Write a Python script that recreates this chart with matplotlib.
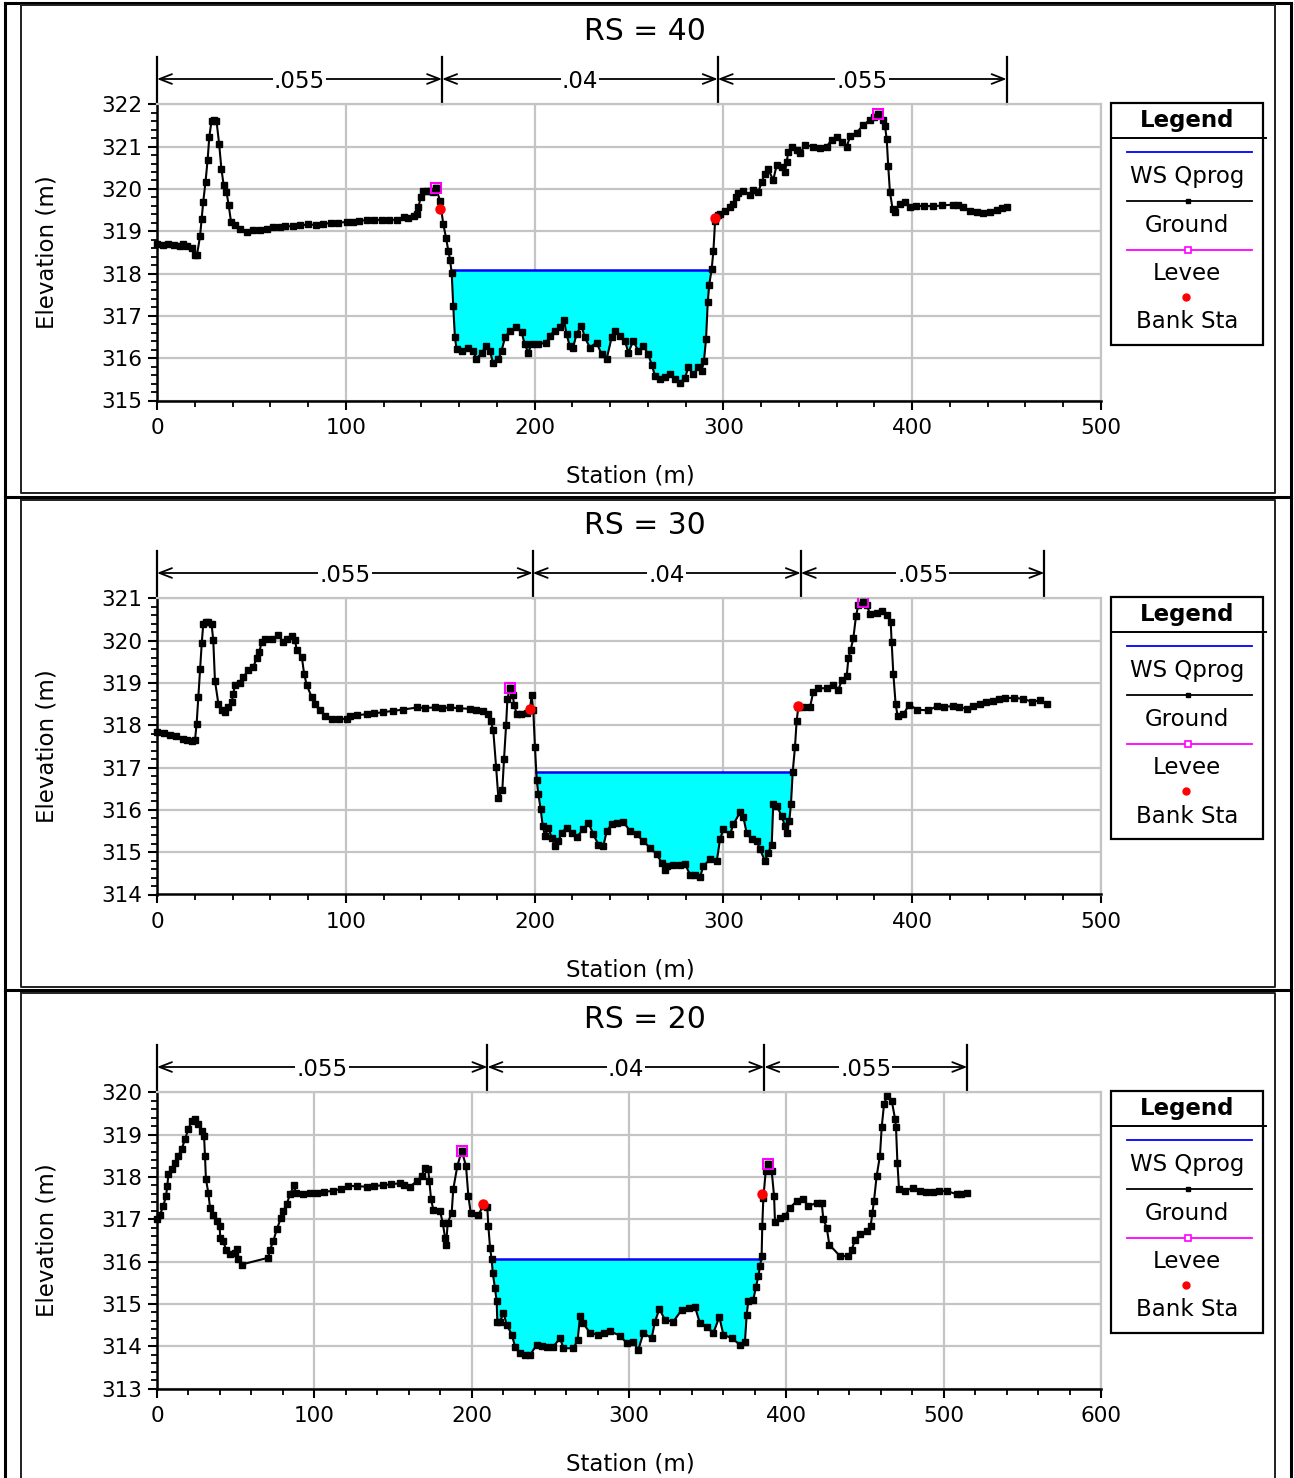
import numpy as np
import matplotlib
matplotlib.use("Agg")
import matplotlib.pyplot as plt
from matplotlib.lines import Line2D
from matplotlib.patches import Rectangle
import matplotlib.transforms as mtransforms

plt.rcParams['font.family'] = ['DejaVu Sans']

# ---------------- data ----------------
titles = ["RS = 40", "RS = 30", "RS = 20"]

sta_40 = [0, 3, 6, 9, 12, 14, 16, 18.4, 20.1, 21.2, 22.8, 23.7, 24.5, 25.7, 26.8, 27.7, 28.9, 30.2, 31.5,
          32.9, 34.1, 35.3, 36.8, 38.0, 39.2, 41.3, 44.0, 47.5, 51.0, 54.5, 58.0, 61.7, 65, 68, 72, 75.7,
          80, 84, 88, 92, 96, 100.4, 104, 107, 111, 115, 119, 123, 127, 130.6, 133, 136, 137.6, 138.5,
          139.7, 141.1, 143, 144.6, 146, 147.8, 149.9, 151.6, 153.1, 154.3, 155.2, 156.1, 156.9, 157.8,
          158.7, 161.3, 164.8, 167.5, 169.2, 171.9, 174.5, 176.3, 178, 180.7, 182.5, 184.3, 186.9, 190.4,
          193.1, 194.8, 196.6, 198.4, 202, 206.3, 208.1, 210.7, 213.4, 215.6, 216.9, 218.6, 220.4, 222.2,
          224.8, 226.6, 229.3, 232.8, 235.5, 238.1, 240.8, 242.5, 245.2, 247.9, 249.6, 252.3, 254.9,
          257.6, 260.2, 262.0, 263.8, 266.4, 269, 271.7, 274.4, 277, 279.7, 281.4, 284.1, 286.7, 288.5,
          289.7, 290.8, 291.7, 292.5, 293.8, 294.7, 295.6, 297, 298.2, 300.8, 303.5, 305.2, 306.7, 307.9,
          310.5, 314.1, 315.8, 318.5, 320.3, 322.0, 323.8, 326.4, 328.2, 330.8, 332.6, 333.5, 334.4,
          336.2, 338.8, 340.6, 343.2, 347.6, 351.2, 354.7, 357.3, 360.0, 362.6, 365.3, 367.1, 370.6,
          374.1, 377.6, 380, 382.0, 384.4, 385.6, 386.5, 387.3, 388.2, 389.6, 390.9, 393.5, 396.2, 398.8,
          402, 406, 411.2, 416, 421.8, 424.5, 427.1, 430.6, 434.2, 437.7, 441.2, 444.7, 447.5, 450]
elev_40 = [318.70, 318.68, 318.69, 318.67, 318.66, 318.70, 318.66, 318.60, 318.43, 318.45, 318.88, 319.30,
           319.70, 320.17, 320.68, 321.23, 321.61, 321.63, 321.61, 321.07, 320.48, 320.09, 319.93, 319.61,
           319.22, 319.14, 319.06, 318.98, 319.02, 319.04, 319.06, 319.10, 319.10, 319.12, 319.12, 319.14,
           319.16, 319.15, 319.18, 319.19, 319.20, 319.22, 319.23, 319.25, 319.26, 319.26, 319.27, 319.27,
           319.27, 319.34, 319.31, 319.35, 319.41, 319.57, 319.81, 319.94, 319.95, 319.94, 319.93, 320.02,
           319.72, 319.18, 318.84, 318.54, 318.33, 318.01, 317.24, 316.49, 316.21, 316.17, 316.25, 316.17,
           315.97, 316.13, 316.29, 316.17, 315.89, 315.97, 316.17, 316.49, 316.65, 316.73, 316.61, 316.33,
           316.13, 316.33, 316.33, 316.37, 316.53, 316.65, 316.73, 316.90, 316.57, 316.29, 316.25, 316.57,
           316.77, 316.49, 316.25, 316.37, 316.09, 315.97, 316.49, 316.65, 316.53, 316.41, 316.13, 316.41,
           316.17, 316.29, 316.09, 315.85, 315.58, 315.50, 315.55, 315.62, 315.50, 315.42, 315.54, 315.78,
           315.62, 315.78, 315.70, 315.94, 316.45, 317.32, 317.74, 318.11, 318.53, 319.25, 319.38, 319.41,
           319.49, 319.57, 319.65, 319.81, 319.91, 319.95, 319.86, 319.97, 319.93, 320.17, 320.36, 320.46,
           320.21, 320.56, 320.52, 320.40, 320.64, 320.88, 321.00, 320.92, 320.84, 321.04, 321.00, 320.96,
           321.00, 321.16, 321.22, 321.12, 321.00, 321.24, 321.33, 321.51, 321.63, 321.70, 321.76, 321.64,
           321.49, 321.17, 320.54, 319.93, 319.53, 319.45, 319.65, 319.69, 319.57, 319.59, 319.60, 319.59,
           319.61, 319.63, 319.61, 319.57, 319.49, 319.45, 319.44, 319.45, 319.51, 319.54, 319.57]

sta_30 = [0, 3.5, 6.9, 10, 13.9, 16, 18.4, 20.1, 21.0, 21.9, 22.8, 23.7, 24.5, 25.8, 27.2, 28.9, 29.8, 30.7,
          32.5, 34.3, 36.0, 37.8, 39.6, 40.4, 41.3, 44.0, 45.7, 48.4, 51.0, 52.8, 54.2, 55.5, 57.2, 60.8,
          64.3, 66.9, 68.7, 71.4, 73.1, 74.0, 76.7, 77.9, 79.3, 81.9, 83.7, 86.3, 89.0, 92.5, 96.5, 100.5,
          102.2, 106, 111.1, 115, 119.9, 125, 130.5, 137.6, 142, 147, 151, 155.2, 160, 165.8, 169, 172.8,
          175.5, 176.7, 178.1, 179.6, 180.8, 182.9, 183.8, 184.9, 185.6, 187.0, 188.4, 189.2, 190.5, 193,
          195.8, 197.6, 198.4, 199.3, 200.2, 201.1, 202.0, 203.2, 204.3, 205.5, 207.3, 209.0, 210.8, 212.6,
          214.3, 217.0, 219.6, 222.3, 225.8, 228.5, 231.1, 233.8, 236.4, 238.2, 240.8, 243.5, 247.0, 250.5,
          254.1, 257.6, 261.2, 264.7, 267.3, 269.1, 270.0, 273.5, 277, 279.7, 282.3, 285, 287.6, 289.4,
          292.9, 296.5, 298.2, 300.0, 303.5, 305.3, 308.8, 310.6, 312.3, 315.0, 317.6, 319.4, 322.0, 323.8,
          325.6, 326.4, 328.2, 330.8, 332.6, 333.5, 334.9, 335.8, 336.7, 337.9, 338.8, 339.7, 342.3, 345.9,
          347.6, 350.3, 354.7, 358.2, 360.9, 362.7, 365.3, 366.2, 367.4, 368.8, 370.2, 371.5, 373.8, 375.9,
          377.6, 381.2, 383.8, 386.5, 388.6, 389.1, 390.0, 391.2, 392.3, 395.3, 398.5, 402.4, 408.5, 413.0,
          417, 421.8, 425, 428.9, 432, 435.9, 439, 443.0, 446, 449.2, 454, 458.9, 463.3, 467.7, 471.2]
elev_30 = [317.84, 317.81, 317.78, 317.74, 317.68, 317.66, 317.62, 317.64, 318.04, 318.67, 319.32, 319.94,
           320.39, 320.43, 320.43, 320.39, 320.01, 319.05, 318.51, 318.35, 318.31, 318.43, 318.55, 318.75,
           318.95, 318.99, 319.14, 319.30, 319.38, 319.58, 319.74, 319.97, 320.03, 320.03, 320.13, 319.97,
           320.03, 320.11, 320.01, 319.78, 319.62, 319.22, 318.95, 318.67, 318.51, 318.35, 318.23, 318.15,
           318.15, 318.15, 318.23, 318.24, 318.26, 318.28, 318.31, 318.34, 318.37, 318.42, 318.41, 318.42,
           318.41, 318.42, 318.40, 318.39, 318.36, 318.33, 318.27, 318.11, 317.88, 317.02, 316.29, 316.47,
           317.20, 318.00, 318.63, 318.89, 318.71, 318.47, 318.27, 318.27, 318.29, 318.39, 318.71, 318.35,
           317.48, 316.71, 316.37, 316.02, 315.62, 315.38, 315.58, 315.34, 315.14, 315.26, 315.46, 315.58,
           315.46, 315.36, 315.54, 315.70, 315.42, 315.18, 315.14, 315.50, 315.66, 315.70, 315.72, 315.50,
           315.42, 315.26, 315.10, 314.95, 314.75, 314.57, 314.67, 314.69, 314.70, 314.72, 314.47, 314.45,
           314.41, 314.67, 314.83, 314.79, 315.30, 315.54, 315.42, 315.66, 315.94, 315.82, 315.46, 315.30,
           315.26, 315.07, 314.79, 314.99, 315.18, 316.14, 316.10, 315.86, 315.62, 315.46, 315.74, 316.15,
           316.89, 317.48, 318.11, 318.43, 318.42, 318.43, 318.79, 318.88, 318.87, 318.95, 318.84, 319.06,
           319.16, 319.58, 319.78, 320.05, 320.57, 320.85, 320.92, 320.85, 320.63, 320.65, 320.71, 320.61,
           320.45, 319.97, 319.22, 318.51, 318.21, 318.26, 318.49, 318.37, 318.35, 318.45, 318.44, 318.45,
           318.42, 318.39, 318.45, 318.51, 318.54, 318.57, 318.62, 318.65, 318.64, 318.63, 318.55, 318.59,
           318.51]

sta_20 = [0, 1.9, 4.0, 5.7, 6.6, 7.2, 9.3, 11.4, 13.5, 15.7, 17.8, 19.9, 22.1, 24.2, 26.3, 28.4, 29.9, 30.5,
          31.1, 32.6, 33.7, 35.8, 37.9, 39.8, 40.2, 42.1, 43.9, 46.4, 49.6, 50.7, 51.7, 53.8, 70.7, 71.8,
          73.9, 76.1, 78.8, 80.3, 82.4, 84.5, 87.1, 88.3, 93.0, 97, 101.5, 106, 112.1, 117, 121.6, 127,
          133.3, 138, 143.9, 149, 154.5, 157, 160.8, 165.1, 168.2, 170.3, 172.4, 173.1, 174.2, 175.6, 179.9,
          181.6, 183.1, 183.7, 184.8, 187.3, 188.3, 190.9, 193.7, 196.4, 197.9, 199.4, 204.2, 207.4, 209.9,
          210.6, 211.7, 212.7, 213.4, 214.8, 215.9, 216.3, 218.0, 220.2, 222.3, 225.5, 227.6, 230.7, 234,
          237.1, 241.3, 244.5, 247.7, 251.9, 256.2, 258.3, 264.7, 267.4, 268.9, 271.0, 275.2, 280.5, 284,
          288.0, 294.3, 298.6, 302.7, 305.9, 309.1, 314.4, 316.5, 319.3, 322.9, 328.2, 333.5, 338, 342.0,
          345.1, 349.4, 353.6, 357.4, 360.0, 365.3, 370.6, 373.7, 374.8, 375.8, 379.0, 380.7, 382.2, 383.3,
          384.3, 384.7, 385.4, 386.9, 388.2, 390.7, 392.2, 392.8, 396.0, 399.2, 402.3, 406.6, 410.8, 414.0,
          419.3, 422.5, 423.5, 425.7, 427.3, 434.1, 439.4, 441.6, 443.7, 446.8, 451.1, 453.6, 454.7, 455.7,
          457.4, 459.5, 460.6, 462.1, 464.2, 467.0, 469.1, 469.7, 470.6, 471.6, 475.4, 480.7, 485.0, 489,
          493.4, 497, 501.9, 508.3, 511, 514.6]
elev_20 = [317.00, 317.11, 317.31, 317.55, 317.79, 318.06, 318.18, 318.34, 318.50, 318.66, 318.89, 319.13,
           319.33, 319.37, 319.25, 319.09, 318.97, 318.50, 317.95, 317.63, 317.27, 317.11, 316.96, 316.84,
           316.56, 316.48, 316.28, 316.17, 316.20, 316.30, 316.05, 315.93, 316.09, 316.28, 316.48, 316.76,
           317.03, 317.19, 317.35, 317.59, 317.80, 317.61, 317.59, 317.62, 317.63, 317.65, 317.67, 317.72,
           317.79, 317.78, 317.77, 317.79, 317.80, 317.83, 317.85, 317.80, 317.77, 317.90, 318.02, 318.22,
           318.18, 317.90, 317.47, 317.23, 317.19, 316.92, 316.56, 316.38, 316.92, 317.15, 317.71, 318.26,
           318.62, 318.26, 317.55, 317.15, 317.11, 317.31, 317.30, 316.84, 316.32, 316.05, 315.73, 315.37,
           315.06, 314.58, 314.58, 314.78, 314.51, 314.27, 313.99, 313.83, 313.80, 313.79, 314.03, 314.00,
           313.99, 313.99, 314.19, 313.95, 313.95, 314.15, 314.72, 314.54, 314.31, 314.27, 314.30, 314.35,
           314.25, 314.07, 314.11, 313.91, 314.31, 314.19, 314.58, 314.88, 314.62, 314.58, 314.86, 314.90,
           314.92, 314.54, 314.46, 314.31, 314.69, 314.27, 314.19, 314.03, 314.11, 314.74, 315.06, 315.10,
           315.40, 315.65, 315.89, 316.13, 316.84, 317.51, 318.14, 318.30, 318.14, 317.55, 316.93, 317.03,
           317.07, 317.27, 317.43, 317.47, 317.31, 317.39, 317.39, 317.00, 316.80, 316.40, 316.13, 316.13,
           316.28, 316.52, 316.64, 316.72, 316.84, 317.15, 317.43, 318.02, 318.50, 319.17, 319.72, 319.92,
           319.80, 319.37, 319.17, 318.34, 317.71, 317.67, 317.75, 317.67, 317.65, 317.64, 317.66, 317.67,
           317.59, 317.60, 317.63]

ws_40, ws_30, ws_20 = 318.08, 316.89, 316.06

levee_sta_40, levee_elev_40 = [147.8, 382.0], [320.02, 321.76]
levee_sta_30, levee_elev_30 = [187.0, 373.8], [318.89, 320.92]
levee_sta_20, levee_elev_20 = [193.7, 388.2], [318.62, 318.30]

bank_sta_40, bank_elev_40 = [149.9, 295.6], [319.53, 319.31]
bank_sta_30, bank_elev_30 = [197.6, 339.7], [318.39, 318.45]
bank_sta_20, bank_elev_20 = [207.4, 384.3], [317.35, 317.59]

n_break_40 = [0, 151, 297, 450]
n_break_30 = [0, 199, 341, 470]
n_break_20 = [0, 210, 386, 515]
n_values = [".055", ".04", ".055"]

x_max = [500, 500, 600]
y_lim = [(315, 322), (314, 321), (313, 320)]

panels = [
    (titles[0], sta_40, elev_40, ws_40, levee_sta_40, levee_elev_40, bank_sta_40, bank_elev_40, n_break_40),
    (titles[1], sta_30, elev_30, ws_30, levee_sta_30, levee_elev_30, bank_sta_30, bank_elev_30, n_break_30),
    (titles[2], sta_20, elev_20, ws_20, levee_sta_20, levee_elev_20, bank_sta_20, bank_elev_20, n_break_20),
]

# ---------------- layout ----------------
W, H = 1294, 1478
fig = plt.figure(figsize=(W / 100, H / 100), dpi=100)


def fx(x):
    return x / W


def fy(y):
    return 1 - y / H


offsets = [0, 494, 988]
FS_TICK = 15.5
FS_LAB = 16.5
FS_LEG = 16.5
FS_TITLE = 21.5


def water_extent(s, e, ws):
    s = np.asarray(s, float)
    e = np.asarray(e, float)
    i0 = int(np.argmin(e))
    i = i0
    while i > 0 and e[i - 1] < ws:
        i -= 1
    j = i0
    while j < len(e) - 1 and e[j + 1] < ws:
        j += 1
    xl = s[i - 1] + (ws - e[i - 1]) * (s[i] - s[i - 1]) / (e[i] - e[i - 1])
    xr = s[j] + (ws - e[j]) * (s[j + 1] - s[j]) / (e[j + 1] - e[j])
    xs = np.concatenate([[xl], s[i:j + 1], [xr]])
    es = np.concatenate([[ws], e[i:j + 1], [ws]])
    return xs, es, xl, xr


# outer frame
for yy in [3, 497, 990]:
    fig.add_artist(Line2D([fx(5), fx(1291)], [fy(yy), fy(yy)], color='black', lw=2.2))
for xx in [5, 1291]:
    fig.add_artist(Line2D([fx(xx), fx(xx)], [fy(3), fy(H + 5)], color='black', lw=2.2))
# inner boxes
inner = [(5, 492.5), (499.5, 986.5), (993, H + 10)]
for (t, b) in inner:
    fig.add_artist(Line2D([fx(20.5), fx(1274.5), fx(1274.5), fx(20.5), fx(20.5)],
                          [fy(t), fy(t), fy(b), fy(b), fy(t)], color='#202020', lw=1.4))

for k, (title, s, e, ws, lvs, lve, bks, bke, nb) in enumerate(panels):
    off = offsets[k]
    ylo, yhi = y_lim[k]
    top_px = 104.3 + off
    bot_px = 400.5 + off
    ax = fig.add_axes([fx(157), fy(bot_px), fx(1101) - fx(157), (bot_px - top_px) / H])
    ax.set_xlim(0, x_max[k])
    ax.set_ylim(ylo, yhi)

    xs, es, xl, xr = water_extent(s, e, ws)
    ax.fill_between(xs, es, ws, color='#00ffff', lw=0, zorder=2)
    ax.plot([xl, xr], [ws, ws], color='#0000ff', lw=1.8, zorder=3)
    ax.plot(s, e, color='black', lw=1.5, marker='s', ms=4.0, zorder=4, clip_on=False)
    ax.plot(lvs, lve, ls='none', marker='s', ms=7, mfc='none', mec='#ff00ff', mew=1.5, zorder=5)
    ax.plot(lvs, lve, ls='none', marker='s', ms=4, color='black', zorder=5.5)
    ax.plot(bks, bke, ls='none', marker='o', ms=6.5, color='#ff0000', zorder=6)

    ax.xaxis.set_major_locator(matplotlib.ticker.MultipleLocator(100))
    ax.xaxis.set_minor_locator(matplotlib.ticker.MultipleLocator(20))
    ax.yaxis.set_major_locator(matplotlib.ticker.MultipleLocator(1))
    ax.yaxis.set_minor_locator(matplotlib.ticker.MultipleLocator(0.2))
    ax.grid(True, which='major', color='#c4c4c4', lw=1.6, zorder=0)
    ax.set_axisbelow(True)
    for side in ['top', 'right']:
        ax.spines[side].set_color('#c4c4c4')
        ax.spines[side].set_linewidth(1.6)
    for side in ['left', 'bottom']:
        ax.spines[side].set_color('black')
        ax.spines[side].set_linewidth(1.8)
    ax.tick_params(which='major', direction='out', length=6.5, width=1.5, labelsize=FS_TICK)
    ax.tick_params(axis='y', which='major', pad=4)
    ax.tick_params(axis='x', which='major', pad=6)
    ax.tick_params(which='minor', direction='out', length=4, width=1.3)

    fig.text(fx(630), fy(476 + off), "Station (m)", ha='center', va='center', fontsize=FS_LAB)
    fig.text(fx(47), fy(252 + off), "Elevation (m)", ha='center', va='center', rotation=90,
             fontsize=FS_LAB)

    # Manning's n bar
    trans = mtransforms.blended_transform_factory(ax.transData, ax.transAxes)
    ph = bot_px - top_px
    y_arrow = 1 + (top_px - (79 + off)) / ph
    y_top = 1 + (top_px - (57 + off)) / ph
    for xb in nb:
        ax.plot([xb, xb], [1.0, y_top], color='black', lw=1.6, transform=trans, clip_on=False)
    for i in range(len(n_values)):
        ax.annotate('', xy=(nb[i], y_arrow), xytext=(nb[i + 1], y_arrow), xycoords=trans, textcoords=trans,
                    arrowprops=dict(arrowstyle='<->,head_length=0.9,head_width=0.35', lw=1.3, color='black',
                                    shrinkA=0, shrinkB=0))
        ax.text((nb[i] + nb[i + 1]) / 2, y_arrow - 0.01, n_values[i], transform=trans, ha='center',
                va='center', fontsize=FS_LAB,
                bbox=dict(boxstyle='square,pad=0.05', fc='white', ec='none'))

    # title
    fig.text(fx(645), fy(31 + off), title, ha='center', va='center', fontsize=FS_TITLE)

    # legend box
    fig.add_artist(Rectangle((fx(1111), fy(345 + off)), fx(1263) - fx(1111), (345 - 103) / H,
                             transform=fig.transFigure, fill=False, ec='black', lw=1.6))
    fig.add_artist(Line2D([fx(1111), fx(1266)], [fy(138 + off)] * 2, color='black', lw=1.4))
    fig.text(fx(1187), fy(120 + off), "Legend", ha='center', va='center', fontsize=FS_LEG, fontweight='bold')
    fig.add_artist(Line2D([fx(1127), fx(1252)], [fy(152 + off)] * 2, color='#0000ff', lw=1.3))
    fig.text(fx(1187), fy(176 + off), "WS Qprog", ha='center', va='center', fontsize=FS_LEG)
    fig.add_artist(Line2D([fx(1127), fx(1252)], [fy(201 + off)] * 2, color='black', lw=1.3))
    fig.add_artist(Line2D([fx(1188)], [fy(201 + off)], color='black', marker='s', ms=3, ls='none'))
    fig.text(fx(1187), fy(225 + off), "Ground", ha='center', va='center', fontsize=FS_LEG)
    fig.add_artist(Line2D([fx(1127), fx(1252)], [fy(250 + off)] * 2, color='#ff00ff', lw=1.3))
    fig.add_artist(Line2D([fx(1188)], [fy(250 + off)], marker='s', ms=5, mfc='white', mec='#ff00ff',
                          mew=1.2, ls='none'))
    fig.text(fx(1187), fy(273 + off), "Levee", ha='center', va='center', fontsize=FS_LEG)
    fig.add_artist(Line2D([fx(1186)], [fy(297 + off)], marker='o', ms=5, color='#ff0000', ls='none'))
    fig.text(fx(1187), fy(322 + off), "Bank Sta", ha='center', va='center', fontsize=FS_LEG)

fig.savefig("out.png", dpi=100)
